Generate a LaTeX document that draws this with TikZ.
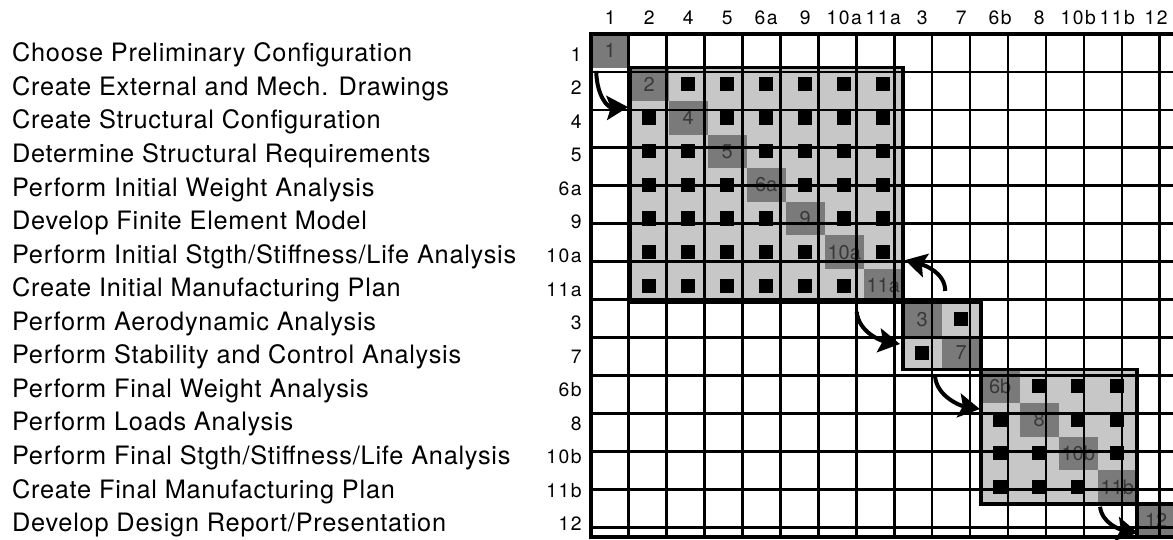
\documentclass[tikz,border=0pt]{standalone}
\usepackage{fontspec}
\setmainfont{TeX Gyre Heros}
\newfontfamily\taskfont[LetterSpace=3]{TeX Gyre Heros}
\newfontfamily\numfont[LetterSpace=8]{TeX Gyre Heros}
\newfontfamily\cellfont{TeX Gyre Heros}
\usetikzlibrary{arrows.meta}

\tikzset{every picture/.style={line width=0.75pt}}
\tikzset{
  task/.style={anchor=base west, inner sep=0pt, font=\taskfont\fontsize{19}{22}\selectfont},
  rownum/.style={anchor=base east, inner sep=0pt, font=\numfont\fontsize{14.5}{16}\selectfont},
  colnum/.style={anchor=base, inner sep=0pt, font=\numfont\fontsize{14.5}{16}\selectfont},
  diagcell/.style={fill=black!52, minimum width=29.25pt, minimum height=25.16pt, inner sep=0pt,
    text=black!78, font=\cellfont\fontsize{15}{16}\selectfont},
  lightcell/.style={fill=black!22},
  gridline/.style={line width=2pt},
  blockline/.style={line width=2.8pt},
  flow/.style={line width=3pt, -{Stealth[length=16pt,width=18pt,inset=3pt]}}
}

\begin{document}
\begin{tikzpicture}[x=0.75pt,y=0.75pt,yscale=-1,xscale=1]

\useasboundingbox (0,0) rectangle (1173,539);
\fill[white] (0,0) rectangle (1173,539);

% one unit = one cell of the matrix
\begin{scope}[shift={(590.7,34)}, x=29.25pt, y=25.1625pt]

% off-diagonal cells of the blocks
\foreach \a/\b in {2/8,9/10,11/14} {
  \foreach \ri in {\a,...,\b} {
    \foreach \ci in {\a,...,\b} {
      \ifnum\ri=\ci\relax\else
        \fill[lightcell] (\ci-1,\ri-1) rectangle (\ci,\ri);
        \fill (\ci-0.68,\ri-0.71) rectangle (\ci-0.32,\ri-0.29);
      \fi
    }
  }
}

% diagonal cells
\foreach \id [count=\k] in {1,2,4,5,6a,9,10a,11a,3,7,6b,8,10b,11b,12} {
  \node[diagcell] (d\k) at (\k-0.5,\k-0.5) {\id};
  \node[colnum] (h\k) at (\k-0.5,-0.29) {\id};
  \node[rownum] (n\k) at (-0.22,\k-0.19) {\id};
}

\draw[gridline] (0,0) grid (15,15);
\draw[blockline] (0,0) rectangle (15,15);
\draw[blockline] (1,1) rectangle (8,8);
\draw[blockline] (8,8) rectangle (10,10);
\draw[blockline] (10,10) rectangle (14,14);
\draw[blockline] (14,14) rectangle (15,15);

% task names
\foreach \txt [count=\k] in {Choose Preliminary Configuration,
  Create External and Mech. Drawings,
  Create Structural Configuration,
  Determine Structural Requirements,
  Perform Initial Weight Analysis,
  Develop Finite Element Model,
  Perform Initial Stgth/Stiffness/Life Analysis,
  Create Initial Manufacturing Plan,
  Perform Aerodynamic Analysis,
  Perform Stability and Control Analysis,
  Perform Final Weight Analysis,
  Perform Loads Analysis,
  Perform Final Stgth/Stiffness/Life Analysis,
  Create Final Manufacturing Plan,
  Develop Design Report/Presentation} {
  \node[task] (t\k) at (-14.85,\k-0.17) {\txt};
}

% arrows between the blocks
\coordinate (s1) at (0.14,1.10);
\coordinate (e1) at (0.96,2.18);
\coordinate (s2) at (9.09,7.66);
\coordinate (e2) at (8.06,6.74);
\coordinate (s3) at (6.82,8.28);
\coordinate (e3) at (7.93,9.24);
\coordinate (s4) at (8.83,10.21);
\coordinate (e4) at (9.98,11.18);
\coordinate (s5) at (13.06,14.09);
\coordinate (e5) at (14.03,14.87);

\draw[flow] (s1) .. controls +(0.02,0.8) and +(-0.5,0.02) .. (e1);
\draw[flow] (s2) .. controls +(0,-0.55) and +(0.5,0.15) .. (e2);
\draw[flow] (s3) .. controls +(0.05,0.6) and +(-0.5,-0.1) .. (e3);
\draw[flow] (s4) .. controls +(0.05,0.6) and +(-0.5,-0.1) .. (e4);
\draw[flow] (s5) .. controls +(0.05,0.5) and +(-0.45,-0.1) .. (e5);

\end{scope}
\end{tikzpicture}
\end{document}
